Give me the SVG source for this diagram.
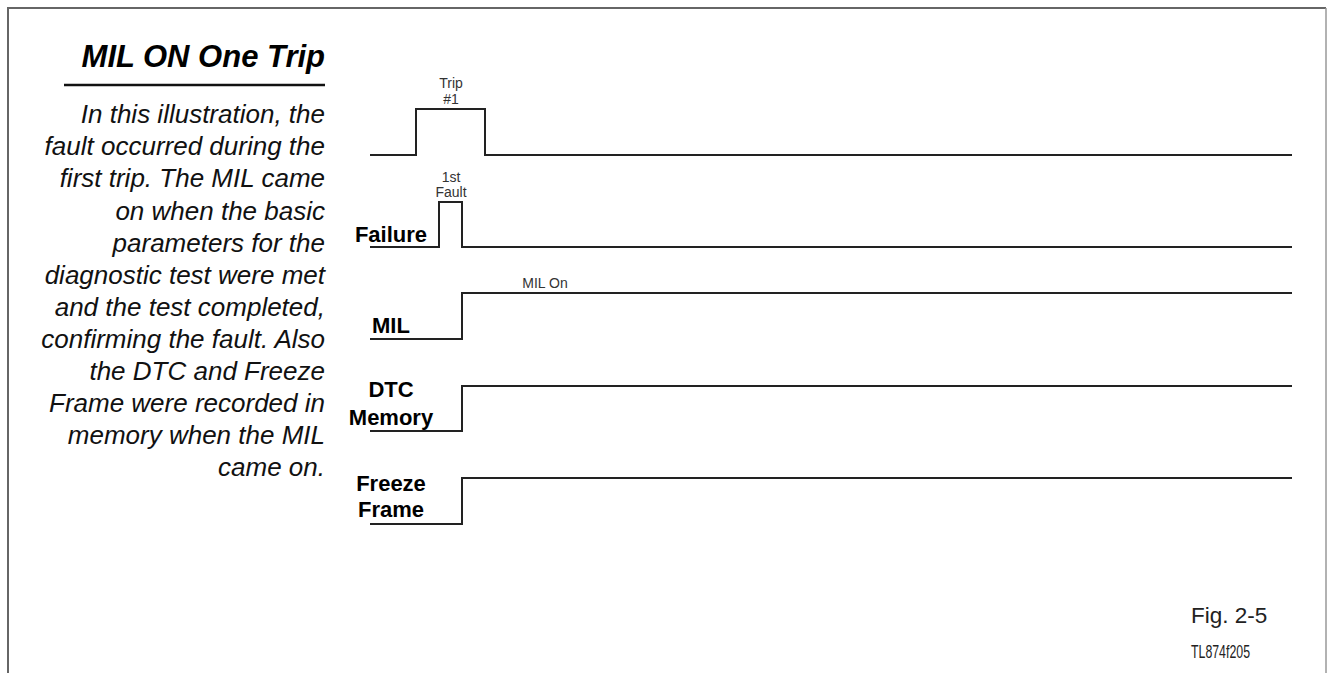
<svg xmlns="http://www.w3.org/2000/svg" width="1327" height="673" viewBox="0 0 1327 673">
<style>
.title{font-family:"Liberation Sans",Arial,sans-serif;font-weight:bold;font-style:italic;font-size:31px;fill:#000;text-anchor:end}
.body{font-family:"Liberation Sans",Arial,sans-serif;font-style:italic;font-size:26px;fill:#111;text-anchor:end}
.lbl{font-family:"Liberation Sans",Arial,sans-serif;font-weight:bold;font-size:22px;fill:#000;text-anchor:middle}
.small{font-family:"Liberation Sans",Arial,sans-serif;font-size:14px;fill:#333;text-anchor:middle}
.sig{fill:none;stroke:#222;stroke-width:2}
.fig{font-family:"Liberation Sans",Arial,sans-serif;font-size:22.5px;fill:#222}
</style>
<rect width="1327" height="673" fill="#fff"/>
<g id="border" fill="none">
<path d="M8 673 V8 H1326" stroke="#666" stroke-width="2"/>
<path d="M1326 8 V673" stroke="#999" stroke-width="1.5"/>
</g>
<g id="sidebar">
<text class="title" x="325" y="67">MIL ON One Trip</text>
<line x1="64" y1="85" x2="325" y2="85" stroke="#111" stroke-width="2.5"/>
<text class="body" x="325" y="123">In this illustration, the</text>
<text class="body" x="325" y="155">fault occurred during the</text>
<text class="body" x="325" y="187">first trip. The MIL came</text>
<text class="body" x="325" y="220">on when the basic</text>
<text class="body" x="325" y="252">parameters for the</text>
<text class="body" x="325" y="284">diagnostic test were met</text>
<text class="body" x="325" y="316">and the test completed,</text>
<text class="body" x="325" y="348">confirming the fault. Also</text>
<text class="body" x="325" y="380">the DTC and Freeze</text>
<text class="body" x="325" y="412">Frame were recorded in</text>
<text class="body" x="325" y="444">memory when the MIL</text>
<text class="body" x="325" y="476">came on.</text>
</g>
<g id="connectors">
<path id="trip-signal" class="sig" d="M370 155 H416 V109 H485 V155 H1292"/>
<path id="failure-signal" class="sig" d="M370 247 H439 V202 H462 V247 H1292"/>
<path id="mil-signal" class="sig" d="M370 339 H462 V293 H1292"/>
<path id="dtc-signal" class="sig" d="M370 431 H462 V386 H1292"/>
<path id="freeze-signal" class="sig" d="M370 524 H462 V478 H1292"/>
</g>
<g id="trip">
<text class="small" x="451" y="88">Trip</text>
<text class="small" x="451" y="104">#1</text>
</g>
<g id="failure">
<text class="lbl" x="391" y="242">Failure</text>
<text class="small" x="451" y="182">1st</text>
<text class="small" x="451" y="197">Fault</text>
</g>
<g id="mil">
<text class="lbl" x="391" y="333">MIL</text>
<text class="small" x="545" y="288">MIL On</text>
</g>
<g id="dtc">
<text class="lbl" x="391" y="397">DTC</text>
<text class="lbl" x="391" y="425">Memory</text>
</g>
<g id="freeze">
<text class="lbl" x="391" y="491">Freeze</text>
<text class="lbl" x="391" y="517">Frame</text>
</g>
<g id="caption">
<text class="fig" x="1191" y="623">Fig. 2-5</text>
<text x="1191" y="658" font-family="'Liberation Sans',Arial,sans-serif" font-size="19" fill="#222" textLength="59" lengthAdjust="spacingAndGlyphs">TL874f205</text>
</g>
</svg>
